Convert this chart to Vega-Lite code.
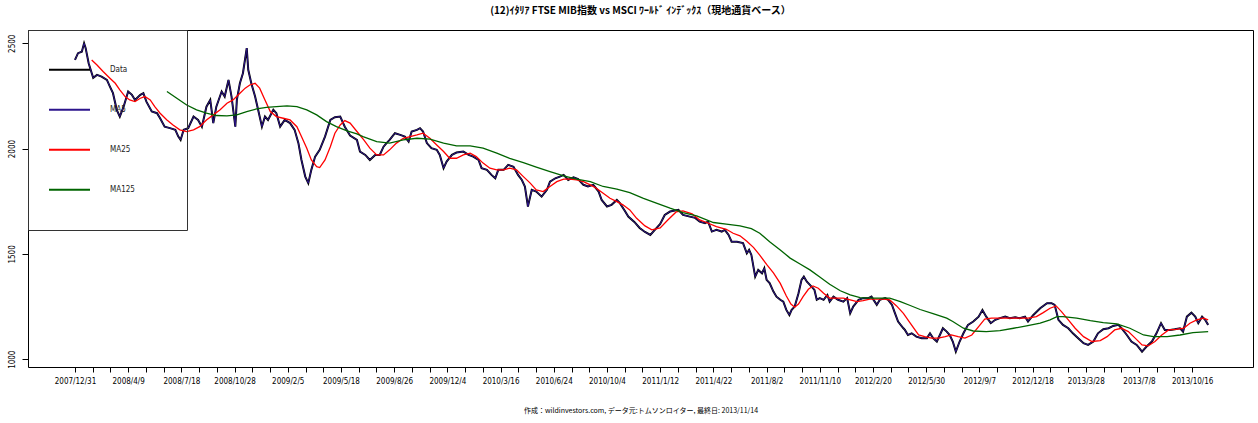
{
  "$schema": "https://vega.github.io/schema/vega-lite/v6.json",
  "width": 1225,
  "height": 337,
  "autosize": {"type": "none"},
  "padding": {"left": 28, "top": 30, "right": 5, "bottom": 56},
  "background": "white",
  "title": {
    "text": "(12)ｲﾀﾘｱ FTSE MIB指数 vs MSCI ﾜｰﾙﾄﾞ ｲﾝﾃﾞｯｸｽ（現地通貨ベース）",
    "anchor": "middle", "frame": "group", "offset": 14,
    "font": "Noto Sans CJK JP", "fontSize": 10, "fontWeight": "bold", "color": "black"
  },
  "datasets": {
    "price": [
      {"t":0,"v":2421},{"t":4,"v":2453},{"t":9,"v":2460},{"t":12,"v":2500},{"t":14,"v":2478},{"t":18,"v":2405},{"t":22,"v":2359},{"t":24,"v":2336},{"t":29,"v":2350},{"t":35,"v":2342},{"t":42,"v":2326},{"t":46,"v":2294},{"t":50,"v":2263},{"t":55,"v":2184},{"t":59,"v":2152},{"t":64,"v":2199},{"t":70,"v":2271},{"t":75,"v":2255},{"t":79,"v":2231},{"t":86,"v":2255},{"t":90,"v":2263},{"t":94,"v":2223},{"t":101,"v":2176},{"t":108,"v":2168},{"t":112,"v":2144},{"t":118,"v":2104},{"t":125,"v":2097},{"t":132,"v":2089},{"t":136,"v":2057},{"t":139,"v":2041},{"t":143,"v":2089},{"t":149,"v":2097},{"t":156,"v":2152},{"t":162,"v":2136},{"t":167,"v":2104},{"t":173,"v":2199},{"t":178,"v":2231},{"t":182,"v":2121},{"t":186,"v":2199},{"t":193,"v":2271},{"t":197,"v":2247},{"t":202,"v":2326},{"t":206,"v":2247},{"t":211,"v":2104},{"t":213,"v":2231},{"t":217,"v":2310},{"t":221,"v":2358},{"t":226,"v":2477},{"t":228,"v":2374},{"t":232,"v":2310},{"t":237,"v":2247},{"t":241,"v":2184},{"t":246,"v":2104},{"t":250,"v":2152},{"t":254,"v":2136},{"t":261,"v":2184},{"t":265,"v":2168},{"t":270,"v":2104},{"t":276,"v":2136},{"t":283,"v":2121},{"t":289,"v":2089},{"t":294,"v":2026},{"t":298,"v":1946},{"t":303,"v":1867},{"t":307,"v":1836},{"t":311,"v":1899},{"t":316,"v":1962},{"t":322,"v":1994},{"t":329,"v":2057},{"t":336,"v":2136},{"t":342,"v":2149},{"t":349,"v":2152},{"t":355,"v":2104},{"t":362,"v":2062},{"t":371,"v":2041},{"t":375,"v":1986},{"t":382,"v":1970},{"t":388,"v":1946},{"t":395,"v":1970},{"t":401,"v":1970},{"t":406,"v":2009},{"t":410,"v":2026},{"t":414,"v":2041},{"t":421,"v":2073},{"t":428,"v":2065},{"t":434,"v":2057},{"t":439,"v":2033},{"t":443,"v":2081},{"t":450,"v":2089},{"t":454,"v":2097},{"t":458,"v":2081},{"t":463,"v":2026},{"t":469,"v":2002},{"t":476,"v":1994},{"t":480,"v":1970},{"t":485,"v":1907},{"t":489,"v":1938},{"t":496,"v":1970},{"t":502,"v":1981},{"t":511,"v":1986},{"t":518,"v":1970},{"t":524,"v":1962},{"t":531,"v":1946},{"t":535,"v":1907},{"t":542,"v":1899},{"t":548,"v":1875},{"t":553,"v":1859},{"t":557,"v":1899},{"t":564,"v":1899},{"t":570,"v":1923},{"t":577,"v":1914},{"t":583,"v":1875},{"t":588,"v":1851},{"t":592,"v":1820},{"t":596,"v":1725},{"t":601,"v":1804},{"t":607,"v":1796},{"t":614,"v":1772},{"t":621,"v":1804},{"t":625,"v":1843},{"t":632,"v":1859},{"t":638,"v":1867},{"t":643,"v":1875},{"t":649,"v":1851},{"t":656,"v":1864},{"t":662,"v":1855},{"t":669,"v":1828},{"t":675,"v":1820},{"t":682,"v":1828},{"t":689,"v":1796},{"t":693,"v":1756},{"t":700,"v":1725},{"t":706,"v":1733},{"t":713,"v":1756},{"t":717,"v":1741},{"t":724,"v":1701},{"t":728,"v":1677},{"t":736,"v":1652},{"t":743,"v":1623},{"t":750,"v":1604},{"t":757,"v":1590},{"t":763,"v":1614},{"t":770,"v":1642},{"t":776,"v":1685},{"t":783,"v":1701},{"t":794,"v":1709},{"t":800,"v":1685},{"t":809,"v":1677},{"t":816,"v":1671},{"t":822,"v":1653},{"t":829,"v":1646},{"t":833,"v":1653},{"t":838,"v":1606},{"t":844,"v":1614},{"t":851,"v":1606},{"t":855,"v":1614},{"t":860,"v":1590},{"t":864,"v":1558},{"t":871,"v":1558},{"t":879,"v":1551},{"t":884,"v":1503},{"t":887,"v":1519},{"t":890,"v":1495},{"t":895,"v":1392},{"t":899,"v":1424},{"t":904,"v":1408},{"t":907,"v":1432},{"t":910,"v":1377},{"t":914,"v":1361},{"t":919,"v":1321},{"t":923,"v":1297},{"t":928,"v":1282},{"t":932,"v":1273},{"t":936,"v":1234},{"t":940,"v":1210},{"t":943,"v":1234},{"t":947,"v":1250},{"t":952,"v":1313},{"t":956,"v":1377},{"t":959,"v":1392},{"t":963,"v":1368},{"t":967,"v":1353},{"t":973,"v":1329},{"t":976,"v":1282},{"t":980,"v":1290},{"t":985,"v":1282},{"t":990,"v":1305},{"t":993,"v":1273},{"t":998,"v":1297},{"t":1004,"v":1282},{"t":1011,"v":1273},{"t":1016,"v":1290},{"t":1020,"v":1218},{"t":1024,"v":1250},{"t":1031,"v":1282},{"t":1037,"v":1290},{"t":1044,"v":1290},{"t":1048,"v":1297},{"t":1055,"v":1258},{"t":1059,"v":1282},{"t":1066,"v":1290},{"t":1070,"v":1282},{"t":1075,"v":1258},{"t":1079,"v":1218},{"t":1083,"v":1179},{"t":1090,"v":1147},{"t":1092,"v":1139},{"t":1096,"v":1115},{"t":1101,"v":1123},{"t":1107,"v":1107},{"t":1114,"v":1100},{"t":1121,"v":1100},{"t":1125,"v":1123},{"t":1129,"v":1100},{"t":1134,"v":1084},{"t":1138,"v":1115},{"t":1142,"v":1147},{"t":1147,"v":1131},{"t":1151,"v":1115},{"t":1155,"v":1084},{"t":1159,"v":1036},{"t":1164,"v":1084},{"t":1169,"v":1123},{"t":1175,"v":1163},{"t":1182,"v":1179},{"t":1189,"v":1202},{"t":1194,"v":1234},{"t":1199,"v":1202},{"t":1205,"v":1171},{"t":1211,"v":1187},{"t":1217,"v":1195},{"t":1224,"v":1202},{"t":1230,"v":1195},{"t":1237,"v":1199},{"t":1243,"v":1195},{"t":1250,"v":1202},{"t":1254,"v":1179},{"t":1261,"v":1210},{"t":1270,"v":1242},{"t":1279,"v":1266},{"t":1285,"v":1266},{"t":1289,"v":1258},{"t":1294,"v":1187},{"t":1300,"v":1163},{"t":1307,"v":1147},{"t":1313,"v":1123},{"t":1320,"v":1100},{"t":1327,"v":1076},{"t":1333,"v":1068},{"t":1340,"v":1084},{"t":1346,"v":1123},{"t":1353,"v":1142},{"t":1360,"v":1147},{"t":1366,"v":1158},{"t":1373,"v":1163},{"t":1377,"v":1147},{"t":1384,"v":1115},{"t":1390,"v":1084},{"t":1397,"v":1068},{"t":1404,"v":1036},{"t":1410,"v":1060},{"t":1417,"v":1084},{"t":1423,"v":1123},{"t":1429,"v":1171},{"t":1434,"v":1139},{"t":1441,"v":1139},{"t":1447,"v":1142},{"t":1454,"v":1147},{"t":1458,"v":1131},{"t":1463,"v":1202},{"t":1469,"v":1221},{"t":1474,"v":1202},{"t":1478,"v":1171},{"t":1483,"v":1202},{"t":1487,"v":1187},{"t":1491,"v":1163}
    ],
    "ma25": [
      {"t":22,"v":2421},{"t":29,"v":2397},{"t":37,"v":2366},{"t":46,"v":2334},{"t":53,"v":2310},{"t":59,"v":2279},{"t":66,"v":2247},{"t":72,"v":2231},{"t":79,"v":2223},{"t":86,"v":2239},{"t":92,"v":2247},{"t":99,"v":2231},{"t":105,"v":2199},{"t":112,"v":2168},{"t":121,"v":2136},{"t":129,"v":2112},{"t":138,"v":2089},{"t":147,"v":2081},{"t":156,"v":2089},{"t":164,"v":2104},{"t":173,"v":2136},{"t":182,"v":2160},{"t":191,"v":2184},{"t":200,"v":2215},{"t":208,"v":2231},{"t":217,"v":2263},{"t":224,"v":2287},{"t":230,"v":2302},{"t":237,"v":2310},{"t":243,"v":2287},{"t":250,"v":2231},{"t":257,"v":2176},{"t":265,"v":2152},{"t":274,"v":2144},{"t":283,"v":2136},{"t":292,"v":2104},{"t":298,"v":2057},{"t":305,"v":2002},{"t":311,"v":1946},{"t":318,"v":1914},{"t":322,"v":1910},{"t":329,"v":1946},{"t":336,"v":2009},{"t":342,"v":2073},{"t":349,"v":2112},{"t":355,"v":2133},{"t":362,"v":2121},{"t":371,"v":2081},{"t":380,"v":2041},{"t":388,"v":2002},{"t":397,"v":1970},{"t":406,"v":1970},{"t":414,"v":1994},{"t":423,"v":2026},{"t":432,"v":2049},{"t":441,"v":2057},{"t":450,"v":2065},{"t":458,"v":2073},{"t":467,"v":2049},{"t":476,"v":2017},{"t":485,"v":1986},{"t":493,"v":1954},{"t":502,"v":1954},{"t":511,"v":1970},{"t":520,"v":1978},{"t":528,"v":1962},{"t":537,"v":1931},{"t":546,"v":1907},{"t":555,"v":1899},{"t":564,"v":1899},{"t":572,"v":1907},{"t":581,"v":1899},{"t":590,"v":1867},{"t":599,"v":1836},{"t":607,"v":1804},{"t":616,"v":1796},{"t":625,"v":1820},{"t":634,"v":1843},{"t":643,"v":1855},{"t":651,"v":1855},{"t":660,"v":1851},{"t":669,"v":1843},{"t":678,"v":1828},{"t":686,"v":1812},{"t":695,"v":1788},{"t":704,"v":1764},{"t":713,"v":1748},{"t":721,"v":1733},{"t":730,"v":1709},{"t":739,"v":1669},{"t":750,"v":1633},{"t":759,"v":1614},{"t":770,"v":1623},{"t":780,"v":1661},{"t":791,"v":1699},{"t":800,"v":1704},{"t":812,"v":1690},{"t":822,"v":1661},{"t":831,"v":1649},{"t":844,"v":1630},{"t":857,"v":1617},{"t":866,"v":1598},{"t":875,"v":1586},{"t":884,"v":1560},{"t":893,"v":1530},{"t":901,"v":1494},{"t":910,"v":1450},{"t":919,"v":1410},{"t":928,"v":1360},{"t":936,"v":1300},{"t":942,"v":1262},{"t":947,"v":1247},{"t":952,"v":1262},{"t":958,"v":1297},{"t":965,"v":1332},{"t":971,"v":1348},{"t":978,"v":1337},{"t":985,"v":1313},{"t":993,"v":1290},{"t":1002,"v":1290},{"t":1011,"v":1290},{"t":1020,"v":1282},{"t":1029,"v":1273},{"t":1037,"v":1278},{"t":1046,"v":1285},{"t":1055,"v":1285},{"t":1064,"v":1285},{"t":1072,"v":1282},{"t":1081,"v":1253},{"t":1090,"v":1218},{"t":1099,"v":1171},{"t":1110,"v":1115},{"t":1118,"v":1107},{"t":1127,"v":1100},{"t":1136,"v":1100},{"t":1145,"v":1107},{"t":1153,"v":1115},{"t":1162,"v":1107},{"t":1171,"v":1100},{"t":1180,"v":1115},{"t":1189,"v":1155},{"t":1197,"v":1190},{"t":1206,"v":1195},{"t":1217,"v":1195},{"t":1230,"v":1195},{"t":1243,"v":1195},{"t":1254,"v":1195},{"t":1265,"v":1202},{"t":1274,"v":1221},{"t":1283,"v":1242},{"t":1291,"v":1253},{"t":1298,"v":1226},{"t":1307,"v":1187},{"t":1316,"v":1147},{"t":1327,"v":1107},{"t":1338,"v":1084},{"t":1349,"v":1088},{"t":1358,"v":1107},{"t":1368,"v":1139},{"t":1377,"v":1147},{"t":1386,"v":1131},{"t":1395,"v":1100},{"t":1404,"v":1068},{"t":1412,"v":1063},{"t":1421,"v":1084},{"t":1430,"v":1115},{"t":1439,"v":1139},{"t":1449,"v":1142},{"t":1459,"v":1147},{"t":1467,"v":1171},{"t":1476,"v":1187},{"t":1485,"v":1195},{"t":1491,"v":1187}
    ],
    "ma125": [
      {"t":121,"v":2271},{"t":134,"v":2239},{"t":147,"v":2207},{"t":160,"v":2184},{"t":173,"v":2168},{"t":186,"v":2157},{"t":200,"v":2155},{"t":213,"v":2160},{"t":226,"v":2176},{"t":239,"v":2188},{"t":252,"v":2196},{"t":265,"v":2199},{"t":279,"v":2203},{"t":292,"v":2199},{"t":305,"v":2184},{"t":318,"v":2160},{"t":331,"v":2128},{"t":344,"v":2104},{"t":358,"v":2084},{"t":371,"v":2070},{"t":379,"v":2057},{"t":397,"v":2033},{"t":414,"v":2026},{"t":432,"v":2041},{"t":450,"v":2049},{"t":467,"v":2045},{"t":485,"v":2026},{"t":502,"v":2013},{"t":520,"v":2013},{"t":537,"v":2002},{"t":555,"v":1978},{"t":572,"v":1954},{"t":590,"v":1933},{"t":607,"v":1912},{"t":625,"v":1891},{"t":643,"v":1870},{"t":660,"v":1855},{"t":678,"v":1843},{"t":695,"v":1820},{"t":713,"v":1807},{"t":730,"v":1791},{"t":748,"v":1764},{"t":765,"v":1741},{"t":783,"v":1717},{"t":800,"v":1696},{"t":818,"v":1680},{"t":840,"v":1649},{"t":857,"v":1641},{"t":875,"v":1633},{"t":890,"v":1620},{"t":901,"v":1598},{"t":914,"v":1558},{"t":928,"v":1519},{"t":941,"v":1480},{"t":954,"v":1452},{"t":967,"v":1424},{"t":980,"v":1390},{"t":993,"v":1356},{"t":1007,"v":1325},{"t":1020,"v":1305},{"t":1033,"v":1292},{"t":1046,"v":1290},{"t":1059,"v":1290},{"t":1072,"v":1290},{"t":1086,"v":1273},{"t":1099,"v":1255},{"t":1112,"v":1236},{"t":1129,"v":1216},{"t":1147,"v":1195},{"t":1155,"v":1179},{"t":1169,"v":1147},{"t":1182,"v":1134},{"t":1199,"v":1131},{"t":1217,"v":1136},{"t":1235,"v":1147},{"t":1252,"v":1158},{"t":1270,"v":1171},{"t":1283,"v":1187},{"t":1292,"v":1202},{"t":1300,"v":1202},{"t":1318,"v":1195},{"t":1336,"v":1183},{"t":1353,"v":1174},{"t":1371,"v":1168},{"t":1388,"v":1147},{"t":1406,"v":1115},{"t":1419,"v":1107},{"t":1437,"v":1107},{"t":1454,"v":1115},{"t":1471,"v":1126},{"t":1491,"v":1131}
    ]
  },
  "encoding": {
    "x": {
      "field": "t", "type": "quantitative",
      "scale": {"domain": [-61.8, 1550], "nice": false, "zero": false},
      "axis": {
        "title": "作成：wildinvestors.com, データ元:トムソンロイター, 最終日: 2013/11/14",
        "values": [0,23.33,46.67,70,93.33,116.67,140,163.33,186.67,210,233.33,256.67,280,303.33,326.67,350,373.33,396.67,420,443.33,466.67,490,513.33,536.67,560,583.33,606.67,630,653.33,676.67,700,723.33,746.67,770,793.33,816.67,840,863.33,886.67,910,933.33,956.67,980,1003.33,1026.67,1050,1073.33,1096.67,1120,1143.33,1166.67,1190,1213.33,1236.67,1260,1283.33,1306.67,1330,1353.33,1376.67,1400,1423.33,1446.67,1470],
        "labelExpr": "datum.value % 70 == 0 ? ['2007/12/31','2008/4/9','2008/7/18','2008/10/28','2009/2/5','2009/5/18','2009/8/26','2009/12/4','2010/3/16','2010/6/24','2010/10/4','2011/1/12','2011/4/22','2011/8/2','2011/11/10','2012/2/20','2012/5/30','2012/9/7','2012/12/18','2013/3/28','2013/7/8','2013/10/16'][datum.value / 70] : ''",
        "labelOverlap": false, "labelFlush": false,
        "domain": false, "grid": false,
        "tickSize": 5, "tickColor": "black", "tickWidth": 1,
        "labelPadding": 5,
        "labelFont": "DejaVu Sans Condensed",
        "labelFontSize": 8, "labelColor": "black",
        "titleFont": "Noto Sans CJK JP", "titleFontSize": 7, "titleFontWeight": "normal",
        "titleColor": "black", "titleY": 43, "titleBaseline": "middle"
      }
    },
    "y": {
      "field": "v", "type": "quantitative",
      "scale": {"domain": [963, 2563], "nice": false, "zero": false},
      "axis": {
        "title": null,
        "values": [1000, 1500, 2000, 2500],
        "format": "d",
        "domain": false, "grid": false,
        "tickSize": 6, "tickColor": "black",
        "labelAngle": -90, "labelAlign": "center", "labelBaseline": "bottom",
        "labelPadding": 6,
        "labelFont": "DejaVu Sans Condensed",
        "labelFontSize": 8, "labelColor": "black"
      }
    }
  },
  "layer": [
    {
      "data": {"name": "price"},
      "mark": {"type": "line", "strokeWidth": 2},
      "encoding": {
        "color": {
          "datum": "Data", "type": "nominal",
          "scale": {"domain": ["Data", "MA5", "MA25", "MA125"], "range": ["#000000", "#2c148c", "#ff0000", "#006400"]},
          "legend": {
            "orient": "none", "legendX": 0, "legendY": 0,
            "title": null, "zindex": 0,
            "symbolType": "stroke", "symbolSize": 1681, "symbolStrokeWidth": 2,
            "labelOffset": 19, "padding": 20, "rowPadding": 0, "clipHeight": 39.3,
            "strokeColor": "#333333",
            "labelFont": "DejaVu Sans Condensed",
            "labelFontSize": 8, "labelColor": "#222222",
            "labelExpr": "datum.label + '\u00a0\u00a0\u00a0\u00a0\u00a0\u00a0\u00a0\u00a0\u00a0\u00a0\u00a0\u00a0\u00a0\u00a0\u200b'"
          }
        }
      }
    },
    {
      "data": {"name": "price"},
      "mark": {"type": "line", "strokeWidth": 1},
      "encoding": {"color": {"datum": "MA5", "type": "nominal"}}
    },
    {
      "data": {"name": "ma25"},
      "mark": {"type": "line", "strokeWidth": 1.3},
      "encoding": {"color": {"datum": "MA25", "type": "nominal"}}
    },
    {
      "data": {"name": "ma125"},
      "mark": {"type": "line", "strokeWidth": 1.3},
      "encoding": {"color": {"datum": "MA125", "type": "nominal"}}
    }
  ],
  "config": {
    "view": {"stroke": "black", "strokeWidth": 1},
    "line": {"interpolate": "linear"}
  }
}
